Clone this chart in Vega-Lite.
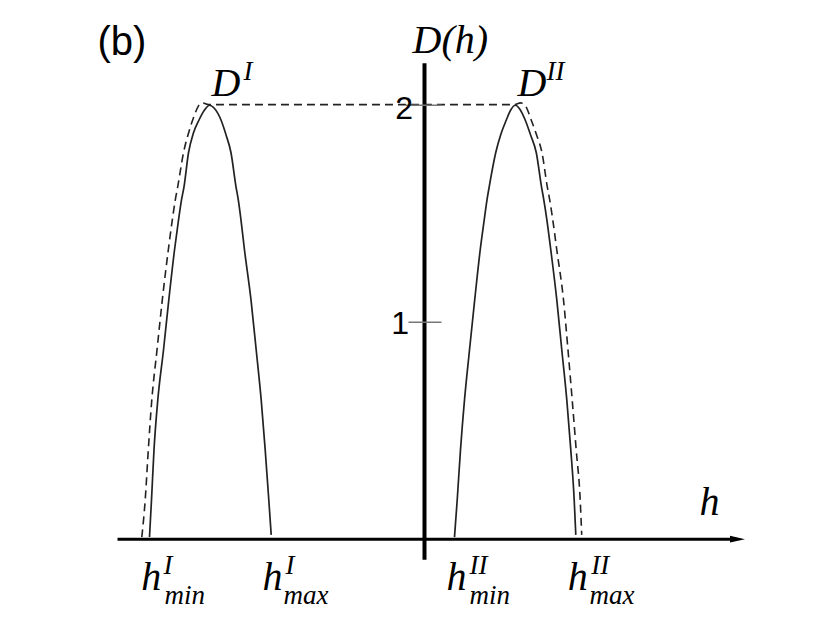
{
  "$schema": "https://vega.github.io/schema/vega-lite/v6.json",
  "width": 830,
  "height": 623,
  "autosize": {"type": "none"},
  "padding": 0,
  "background": "white",
  "config": {"view": {"stroke": null}},
  "datasets": {
    "curves": [
      {"s":"I","o":1,"h":-2.75,"D":0.01},
      {"s":"I","o":2,"h":-2.73,"D":0.181},
      {"s":"I","o":3,"h":-2.705,"D":0.412},
      {"s":"I","o":4,"h":-2.667,"D":0.642},
      {"s":"I","o":5,"h":-2.61,"D":0.872},
      {"s":"I","o":6,"h":-2.557,"D":1.103},
      {"s":"I","o":7,"h":-2.5,"D":1.333},
      {"s":"I","o":8,"h":-2.46,"D":1.471},
      {"s":"I","o":9,"h":-2.43,"D":1.564},
      {"s":"I","o":10,"h":-2.405,"D":1.624},
      {"s":"I","o":11,"h":-2.36,"D":1.781},
      {"s":"I","o":12,"h":-2.31,"D":1.873},
      {"s":"I","o":13,"h":-2.255,"D":1.932},
      {"s":"I","o":14,"h":-2.2,"D":1.978},
      {"s":"I","o":15,"h":-2.15,"D":2.0},
      {"s":"I","o":16,"h":-2.1,"D":1.985},
      {"s":"I","o":17,"h":-2.035,"D":1.932},
      {"s":"I","o":18,"h":-1.985,"D":1.864},
      {"s":"I","o":19,"h":-1.935,"D":1.781},
      {"s":"I","o":20,"h":-1.885,"D":1.624},
      {"s":"I","o":21,"h":-1.862,"D":1.564},
      {"s":"I","o":22,"h":-1.835,"D":1.471},
      {"s":"I","o":23,"h":-1.8,"D":1.333},
      {"s":"I","o":24,"h":-1.735,"D":1.103},
      {"s":"I","o":25,"h":-1.683,"D":0.872},
      {"s":"I","o":26,"h":-1.633,"D":0.642},
      {"s":"I","o":27,"h":-1.593,"D":0.412},
      {"s":"I","o":28,"h":-1.557,"D":0.181},
      {"s":"I","o":29,"h":-1.533,"D":0.02},
      {"s":"II","o":1,"h":0.3,"D":0.01},
      {"s":"II","o":2,"h":0.327,"D":0.181},
      {"s":"II","o":3,"h":0.36,"D":0.412},
      {"s":"II","o":4,"h":0.4,"D":0.642},
      {"s":"II","o":5,"h":0.45,"D":0.872},
      {"s":"II","o":6,"h":0.502,"D":1.103},
      {"s":"II","o":7,"h":0.557,"D":1.333},
      {"s":"II","o":8,"h":0.597,"D":1.471},
      {"s":"II","o":9,"h":0.625,"D":1.564},
      {"s":"II","o":10,"h":0.647,"D":1.624},
      {"s":"II","o":11,"h":0.712,"D":1.781},
      {"s":"II","o":12,"h":0.762,"D":1.864},
      {"s":"II","o":13,"h":0.818,"D":1.932},
      {"s":"II","o":14,"h":0.862,"D":1.978},
      {"s":"II","o":15,"h":0.907,"D":2.0},
      {"s":"II","o":16,"h":0.952,"D":1.983},
      {"s":"II","o":17,"h":1.007,"D":1.932},
      {"s":"II","o":18,"h":1.06,"D":1.864},
      {"s":"II","o":19,"h":1.118,"D":1.781},
      {"s":"II","o":20,"h":1.17,"D":1.624},
      {"s":"II","o":21,"h":1.193,"D":1.564},
      {"s":"II","o":22,"h":1.224,"D":1.471},
      {"s":"II","o":23,"h":1.263,"D":1.333},
      {"s":"II","o":24,"h":1.323,"D":1.103},
      {"s":"II","o":25,"h":1.373,"D":0.872},
      {"s":"II","o":26,"h":1.423,"D":0.642},
      {"s":"II","o":27,"h":1.463,"D":0.412},
      {"s":"II","o":28,"h":1.497,"D":0.181},
      {"s":"II","o":29,"h":1.513,"D":0.02}
    ],
    "envelope": [
      {"o":1,"h":-2.827,"D":0.01},
      {"o":2,"h":-2.793,"D":0.181},
      {"o":3,"h":-2.762,"D":0.412},
      {"o":4,"h":-2.727,"D":0.642},
      {"o":5,"h":-2.675,"D":0.872},
      {"o":6,"h":-2.622,"D":1.103},
      {"o":7,"h":-2.562,"D":1.333},
      {"o":8,"h":-2.522,"D":1.471},
      {"o":9,"h":-2.492,"D":1.564},
      {"o":10,"h":-2.468,"D":1.624},
      {"o":11,"h":-2.41,"D":1.781},
      {"o":12,"h":-2.35,"D":1.887},
      {"o":13,"h":-2.3,"D":1.955},
      {"o":14,"h":-2.26,"D":1.997},
      {"o":15,"h":-2.22,"D":2.011},
      {"o":16,"h":-2.16,"D":2.003},
      {"o":17,"h":0.9,"D":2.003},
      {"o":18,"h":0.96,"D":2.011},
      {"o":19,"h":1.01,"D":1.997},
      {"o":20,"h":1.067,"D":1.932},
      {"o":21,"h":1.12,"D":1.864},
      {"o":22,"h":1.175,"D":1.781},
      {"o":23,"h":1.228,"D":1.624},
      {"o":24,"h":1.252,"D":1.564},
      {"o":25,"h":1.283,"D":1.471},
      {"o":26,"h":1.323,"D":1.333},
      {"o":27,"h":1.39,"D":1.103},
      {"o":28,"h":1.435,"D":0.872},
      {"o":29,"h":1.477,"D":0.642},
      {"o":30,"h":1.517,"D":0.412},
      {"o":31,"h":1.557,"D":0.181},
      {"o":32,"h":1.572,"D":0.02}
    ],
    "haxis": [{"h":-3.07,"h2":3.12,"D":0}],
    "daxis": [{"h":0,"D":-0.095,"D2":2.193}],
    "arrow": [{"h":3.13,"D":0}],
    "ticks": [{"D":2,"h":-0.19,"h2":0.17},{"D":1,"h":-0.16,"h2":0.17}],
    "ticklabels": [{"t":"2","h":-0.115,"D":1.937},{"t":"1","h":-0.155,"D":0.946}],
    "panel": [{"t":"(b)","h":-3.27,"D":2.232}],
    "bigmath": [
      {"t":"D(h)","h":-0.12,"D":2.241},
      {"t":"D","h":-2.13,"D":2.043},
      {"t":"D","h":0.93,"D":2.043},
      {"t":"h","h":2.75,"D":0.112},
      {"t":"h","h":-2.833,"D":-0.233},
      {"t":"h","h":-1.62,"D":-0.233},
      {"t":"h","h":0.22,"D":-0.233},
      {"t":"h","h":1.433,"D":-0.233}
    ],
    "scripts": [
      {"t":"I","h":-1.81,"D":2.117},
      {"t":"II","h":1.22,"D":2.117},
      {"t":"I","h":-2.61,"D":-0.16},
      {"t":"min","h":-2.6,"D":-0.3},
      {"t":"I","h":-1.39,"D":-0.16},
      {"t":"max","h":-1.41,"D":-0.3},
      {"t":"II","h":0.45,"D":-0.16},
      {"t":"min","h":0.45,"D":-0.3},
      {"t":"II","h":1.667,"D":-0.16},
      {"t":"max","h":1.65,"D":-0.3}
    ]
  },
  "encoding": {
    "x": {"field": "h", "type": "quantitative", "axis": null, "scale": {"domain": [-4.245, 4.055], "nice": false, "zero": false}},
    "y": {"field": "D", "type": "quantitative", "axis": null, "scale": {"domain": [-0.386, 2.485], "nice": false, "zero": false}}
  },
  "layer": [
    {
      "data": {"name": "curves"},
      "mark": {"type": "line", "stroke": "#222222", "strokeWidth": 1.7, "interpolate": "monotone"},
      "encoding": {"detail": {"field": "s"}, "order": {"field": "o", "type": "quantitative"}}
    },
    {
      "data": {"name": "envelope"},
      "mark": {"type": "line", "stroke": "#222222", "strokeWidth": 1.6, "strokeDash": [8, 5], "interpolate": "monotone"},
      "encoding": {"order": {"field": "o", "type": "quantitative"}}
    },
    {
      "data": {"name": "haxis"},
      "mark": {"type": "rule", "stroke": "black", "strokeWidth": 3},
      "encoding": {"x2": {"field": "h2"}}
    },
    {
      "data": {"name": "daxis"},
      "mark": {"type": "rule", "stroke": "black", "strokeWidth": 4},
      "encoding": {"y2": {"field": "D2"}}
    },
    {
      "data": {"name": "arrow"},
      "mark": {"type": "point", "shape": "M-1,-0.45L1,0L-1,0.45Z", "size": 225, "filled": true, "fill": "black", "stroke": null, "opacity": 1}
    },
    {
      "data": {"name": "ticks"},
      "mark": {"type": "rule", "stroke": "#777777", "strokeWidth": 1.5},
      "encoding": {"x2": {"field": "h2"}}
    },
    {
      "data": {"name": "ticklabels"},
      "mark": {"type": "text", "font": "Liberation Sans", "fontSize": 32, "align": "right", "baseline": "alphabetic", "fill": "black"},
      "encoding": {"text": {"field": "t"}}
    },
    {
      "data": {"name": "panel"},
      "mark": {"type": "text", "font": "Liberation Sans", "fontSize": 40, "align": "left", "baseline": "alphabetic", "fill": "black"},
      "encoding": {"text": {"field": "t"}}
    },
    {
      "data": {"name": "bigmath"},
      "mark": {"type": "text", "font": "Liberation Serif", "fontStyle": "italic", "fontSize": 40, "align": "left", "baseline": "alphabetic", "fill": "black"},
      "encoding": {"text": {"field": "t"}}
    },
    {
      "data": {"name": "scripts"},
      "mark": {"type": "text", "font": "Liberation Serif", "fontStyle": "italic", "fontSize": 27, "align": "left", "baseline": "alphabetic", "fill": "black"},
      "encoding": {"text": {"field": "t"}}
    }
  ]
}
